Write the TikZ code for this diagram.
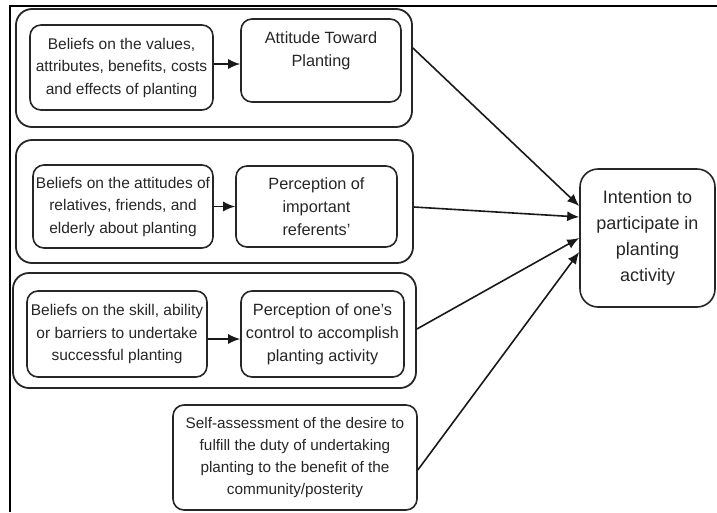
\documentclass[tikz,border=0pt]{standalone}
\usepackage{fontspec}
\setmainfont{Liberation Sans}
\usetikzlibrary{arrows.meta}
\begin{document}
\begin{tikzpicture}[x=1pt,y=-1pt,
  box/.style={draw=black!85, line width=1.6pt, rounded corners=11pt, align=center,
    inner sep=0pt, text=black!85},
  grp/.style={draw=black!85, line width=1.8pt, rounded corners=16pt, inner sep=0pt},
  small/.style={font=\fontsize{15.5}{22.5}\selectfont},
  mid/.style={font=\fontsize{16.3}{23}\selectfont},
  big/.style={font=\fontsize{18}{26}\selectfont},
  arr/.style={draw=black!90, line width=1.6pt, -{Latex[length=12pt,width=10pt]}},
  frame/.style={draw=black, line width=2.8pt}]
\useasboundingbox (0,0) rectangle (717,512);

% page frame (top and left edges)
\draw[frame] (10,512) -- (10,6) -- (717,6);

% group frames
\node[grp, minimum width=396, minimum height=118] (g1) at (214,68) {};
\node[grp, minimum width=397, minimum height=123] (g2) at (214.5,201.5) {};
\node[grp, minimum width=403, minimum height=115] (g3) at (214.5,330.5) {};

% beliefs and perceptions
\node[box, small, minimum width=183, minimum height=85] (b1) at (121.5,67.5)
  {Beliefs on the values,\\attributes, benefits, costs\\and effects of planting};
\node[box, mid, minimum width=160, minimum height=83] (b2) at (321,60.5)
  {Attitude Toward\\Planting\\\phantom{X}};
\node[box, small, minimum width=180, minimum height=83] (b3) at (123,206.5)
  {Beliefs on the attitudes of\\relatives, friends, and\\elderly about planting};
\node[box, mid, minimum width=161, minimum height=81] (b4) at (316.5,206.5)
  {Perception of\\important\\referents'};
\node[box, small, minimum width=180, minimum height=86] (b5) at (117,334)
  {Beliefs on the skill, ability\\or barriers to undertake\\successful planting};
\node[box, mid, minimum width=163, minimum height=86] (b6) at (322.5,334)
  {Perception of one's\\control to accomplish\\planting activity};
\node[box, font=\fontsize{15.3}{21.7}\selectfont, minimum width=244, minimum height=105] (b7) at (295,457.5)
  {Self-assessment of the desire to\\fulfill the duty of undertaking\\planting to the benefit of the\\community/posterity};

% outcome
\node[box, big, rounded corners=18pt, minimum width=135, minimum height=138] (int) at (647.5,238)
  {Intention to\\participate in\\planting\\activity};

% links inside the groups
\draw[arr] ([yshift=3.5pt]b1.east) -- ([yshift=3.5pt]b1.east -| b2.west);
\draw[arr] (b3.east) -- (b3.east -| b4.west);
\draw[arr] ([yshift=-5pt]b5.east) -- ([yshift=-5pt]b5.east -| b6.west);

% links to the intention
\draw[arr] ([yshift=20pt]g1.east) -- ([yshift=32pt]int.west);
\draw[arr] ([yshift=-5.5pt]g2.east) -- ([yshift=21pt]int.west);
\draw[arr] ([yshift=1.5pt]g3.east) -- (int.west);
\draw[arr] ([yshift=-12.5pt]b7.east) -- ([yshift=-14pt]int.west);
\end{tikzpicture}
\end{document}
